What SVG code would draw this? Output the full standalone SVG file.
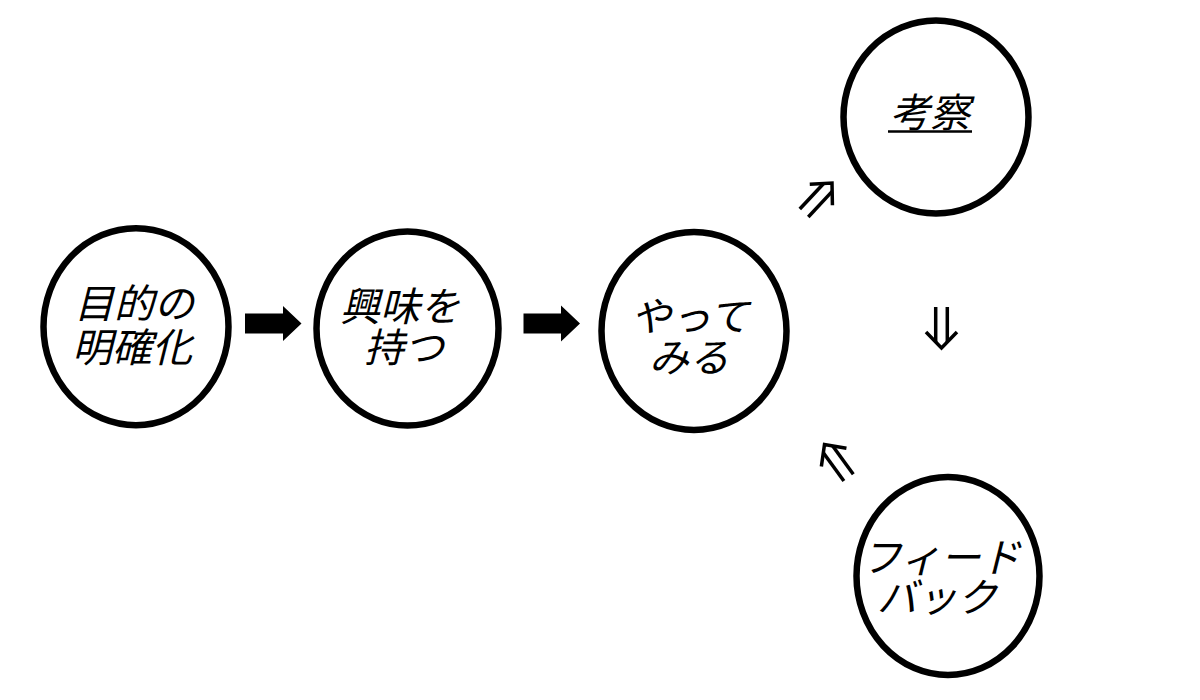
<svg xmlns="http://www.w3.org/2000/svg" width="1200" height="700" viewBox="0 0 1200 700">
  <style>
    .node ellipse { fill: #ffffff; stroke: #000000; stroke-width: 6.5; }
    .lbl { font-family: "Noto Sans CJK JP", "Noto Sans", sans-serif; font-size: 40px; font-style: italic; fill: #000000; text-anchor: middle; }
    .block { fill: #000000; }
    .dbl { fill: none; stroke: #000000; stroke-width: 3.5; stroke-linecap: butt; stroke-linejoin: miter; }
  </style>
  <defs>
    <g id="dblArrow">
      <line x1="-41" y1="-5.8" x2="-6" y2="-5.8"/>
      <line x1="-41" y1="5.8" x2="-6" y2="5.8"/>
      <polyline points="-16,-15.5 0,0 -16,15.5"/>
    </g>
  </defs>
  <rect width="1200" height="700" fill="#ffffff"/>

  <g id="connectors">
    <polygon class="block" points="245,313.5 283,313.5 283,306 301.5,323.5 283,341 283,333.5 245,333.5"/>
    <polygon class="block" points="523.5,313.5 561,313.5 561,305.5 580,323.5 561,341.5 561,333.5 523.5,333.5"/>
    <use href="#dblArrow" class="dbl" transform="translate(832,183) rotate(-47)"/>
    <use href="#dblArrow" class="dbl" transform="translate(941.5,348) rotate(90)"/>
    <use href="#dblArrow" class="dbl" transform="translate(824.5,444.5) rotate(-126)"/>
  </g>

  <g id="node-mokuteki" class="node">
    <ellipse cx="136" cy="326.7" rx="92.5" ry="98.5"/>
    <text class="lbl"><tspan x="134" y="318">目的の</tspan><tspan x="132" y="362">明確化</tspan></text>
  </g>

  <g id="node-kyoumi" class="node">
    <ellipse cx="407.5" cy="328.5" rx="91" ry="97"/>
    <text class="lbl"><tspan x="400" y="321">興味を</tspan><tspan x="404" y="362">持つ</tspan></text>
  </g>

  <g id="node-yattemiru" class="node">
    <ellipse cx="694" cy="331" rx="92.5" ry="99"/>
    <text class="lbl"><tspan x="690" y="331">やって</tspan><tspan x="689" y="372">みる</tspan></text>
  </g>

  <g id="node-kousatsu" class="node">
    <ellipse cx="936" cy="117" rx="92.5" ry="96.5"/>
    <text class="lbl" x="930" y="127">考察</text>
    <line x1="888" y1="131.5" x2="972" y2="131.5" stroke="#000000" stroke-width="2.5"/>
  </g>

  <g id="node-feedback" class="node">
    <ellipse cx="948" cy="576" rx="91.5" ry="99"/>
    <text class="lbl"><tspan x="941" y="572">フィード</tspan><tspan x="937" y="612">バック</tspan></text>
  </g>
</svg>
